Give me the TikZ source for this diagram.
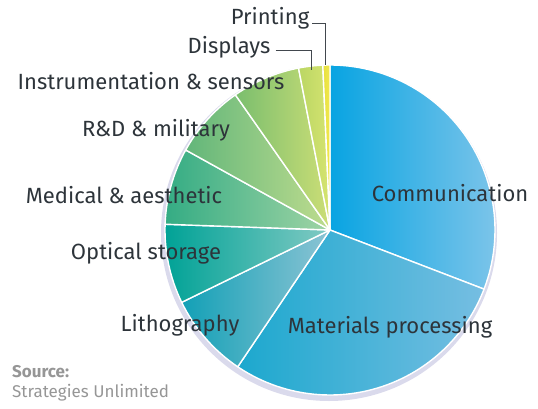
\documentclass[tikz,border=0pt]{standalone}
\usepackage{fontspec}
\setmainfont{Fira Sans}
\definecolor{labeltext}{RGB}{45,52,58}
\definecolor{sourcetext}{RGB}{150,150,150}
\definecolor{rimcol}{RGB}{218,218,236}
\definecolor{comL}{RGB}{8,164,226}
\definecolor{comR}{RGB}{130,198,234}
\definecolor{matL}{RGB}{28,168,206}
\definecolor{matR}{RGB}{118,190,226}
\definecolor{litL}{RGB}{18,160,182}
\definecolor{litR}{RGB}{140,196,212}
\definecolor{optL}{RGB}{0,162,150}
\definecolor{optR}{RGB}{130,202,196}
\definecolor{medL}{RGB}{52,172,132}
\definecolor{medR}{RGB}{160,212,164}
\definecolor{rdL}{RGB}{98,182,122}
\definecolor{rdR}{RGB}{190,220,142}
\definecolor{insL}{RGB}{122,190,110}
\definecolor{insR}{RGB}{204,222,118}
\definecolor{disL}{RGB}{186,214,100}
\definecolor{disR}{RGB}{214,228,112}
\definecolor{priL}{RGB}{232,224,60}
\definecolor{priR}{RGB}{240,232,80}
\tikzset{
	piece/.style={draw=white, line width=1.4pt, line join=round},
	lbl/.style={text=labeltext, font=\fontsize{22}{25}\selectfont, inner sep=0pt},
	src/.style={text=sourcetext, font=\fontsize{17}{19}\selectfont, anchor=west, inner sep=0pt},
	leader/.style={draw=labeltext!90, line width=0.9pt}
}
\begin{document}
\begin{tikzpicture}[x=1pt,y=1pt]
				\useasboundingbox (0,0) rectangle (538,408);
				\coordinate (c) at (330,178);
				\fill[rimcol] (329,175) circle (168);
				\foreach \a/\b/\lc/\rc in {-21/90/comL/comR, -124/-21/matL/matR, 206/236/litL/litR, 178/206/optL/optR, 151/178/medL/medR, 125/151/rdL/rdR, 101/125/insL/insR, 92.5/101/disL/disR, 90/92.5/priL/priR}{
					\path[piece, left color=\lc, right color=\rc] (c) -- ++(\a:165) arc[start angle=\a, end angle=\b, radius=165] -- cycle;
				}
			
				\node[lbl] (communication) at (450,215) {Communication};
				\node[lbl] (materials) at (390,81) {Materials processing};
				\node[lbl] (lithography) at (180,83) {Lithography};
				\node[lbl] (optical) at (146,155) {Optical storage};
				\node[lbl] (medical) at (124,213) {Medical \& aesthetic};
				\node[lbl] (rnd) at (156,278) {R\&D \& military};
				\node[lbl] (instrumentation) at (151,327) {Instrumentation \& sensors};
				\node[lbl] (displays) at (229,361) {Displays};
				\node[lbl] (printing) at (270,390) {Printing};
				\node[src, font=\fontsize{17}{19}\selectfont\bfseries] (source) at (12,36) {Source:};
				\node[src] (strategies) at (12,15) {Strategies Unlimited};
			
				\coordinate (printtip) at (325.5,343);
				\coordinate (disptip) at (311.5,338);
				\draw[leader] ([xshift=3pt,yshift=-5pt]printing.east) -| (printtip);
				\draw[leader] ([xshift=5pt,yshift=-3pt]displays.east) -| (disptip);
			\end{tikzpicture}
\end{document}
